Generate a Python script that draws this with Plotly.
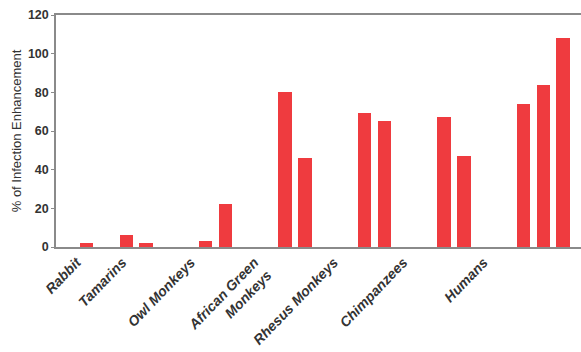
import plotly.graph_objects as go

# ---- data ----
categories = ["Rabbit", "Tamarins", "Owl Monkeys", "African Green<br>Monkeys",
              "Rhesus Monkeys", "Chimpanzees", "Humans"]
series_1 = [None, 6, 3, 80, 69.5, 67, 74]
series_2 = [None, 2, 22, 46, 65, 47, 84]
series_3 = [2, None, None, None, None, None, 108]
y_ticks = [0, 20, 40, 60, 80, 100, 120]

# ---- layout helpers ----
SLOTS_PER_GROUP = 4
label_pos = [-0.5, 1.8, 5.25, 8.45, 12.45, 15.95, 20.0]

fig = go.Figure()
for s, vals in enumerate([series_1, series_2, series_3]):
    xs, ys = [], []
    for g, v in enumerate(vals):
        if v is None:
            continue
        xs.append(SLOTS_PER_GROUP * g - 2 + s)
        ys.append(v)
    fig.add_trace(go.Bar(x=xs, y=ys, width=0.68, marker_color="#ef3b3f",
                         marker_line_width=0, showlegend=False))

fig.update_layout(
    width=581, height=352,
    margin=dict(l=56, r=0, t=15, b=105),
    paper_bgcolor="white", plot_bgcolor="white",
    bargap=0,
)
fig.update_xaxes(
    range=[-1.54, 24.9], tickmode="array", tickvals=label_pos, ticktext=categories,
    tickangle=-46, ticks="", showgrid=False, zeroline=False, automargin=False,
    showline=True, linecolor="#8a8a8a", linewidth=1.5, mirror=True,
    tickfont=dict(family="Liberation Sans", size=14, weight="bold", style="italic", color="#333"),
)
fig.update_yaxes(
    range=[0, 120], tickvals=y_ticks, ticks="outside", ticklen=3, tickcolor="#8a8a8a",
    showgrid=False, zeroline=False, showline=True, linecolor="#8a8a8a", linewidth=1.5,
    automargin=False,
    tickfont=dict(family="Liberation Sans", size=12.5, weight="bold", color="#333"),
    title=dict(text="% of Infection Enhancement", standoff=3,
               font=dict(family="Liberation Sans", size=13, color="#333")),
)
fig.write_html("out.html", config={"displayModeBar": False},
               post_script="document.body.style.margin='0';document.body.style.overflow='hidden';")
